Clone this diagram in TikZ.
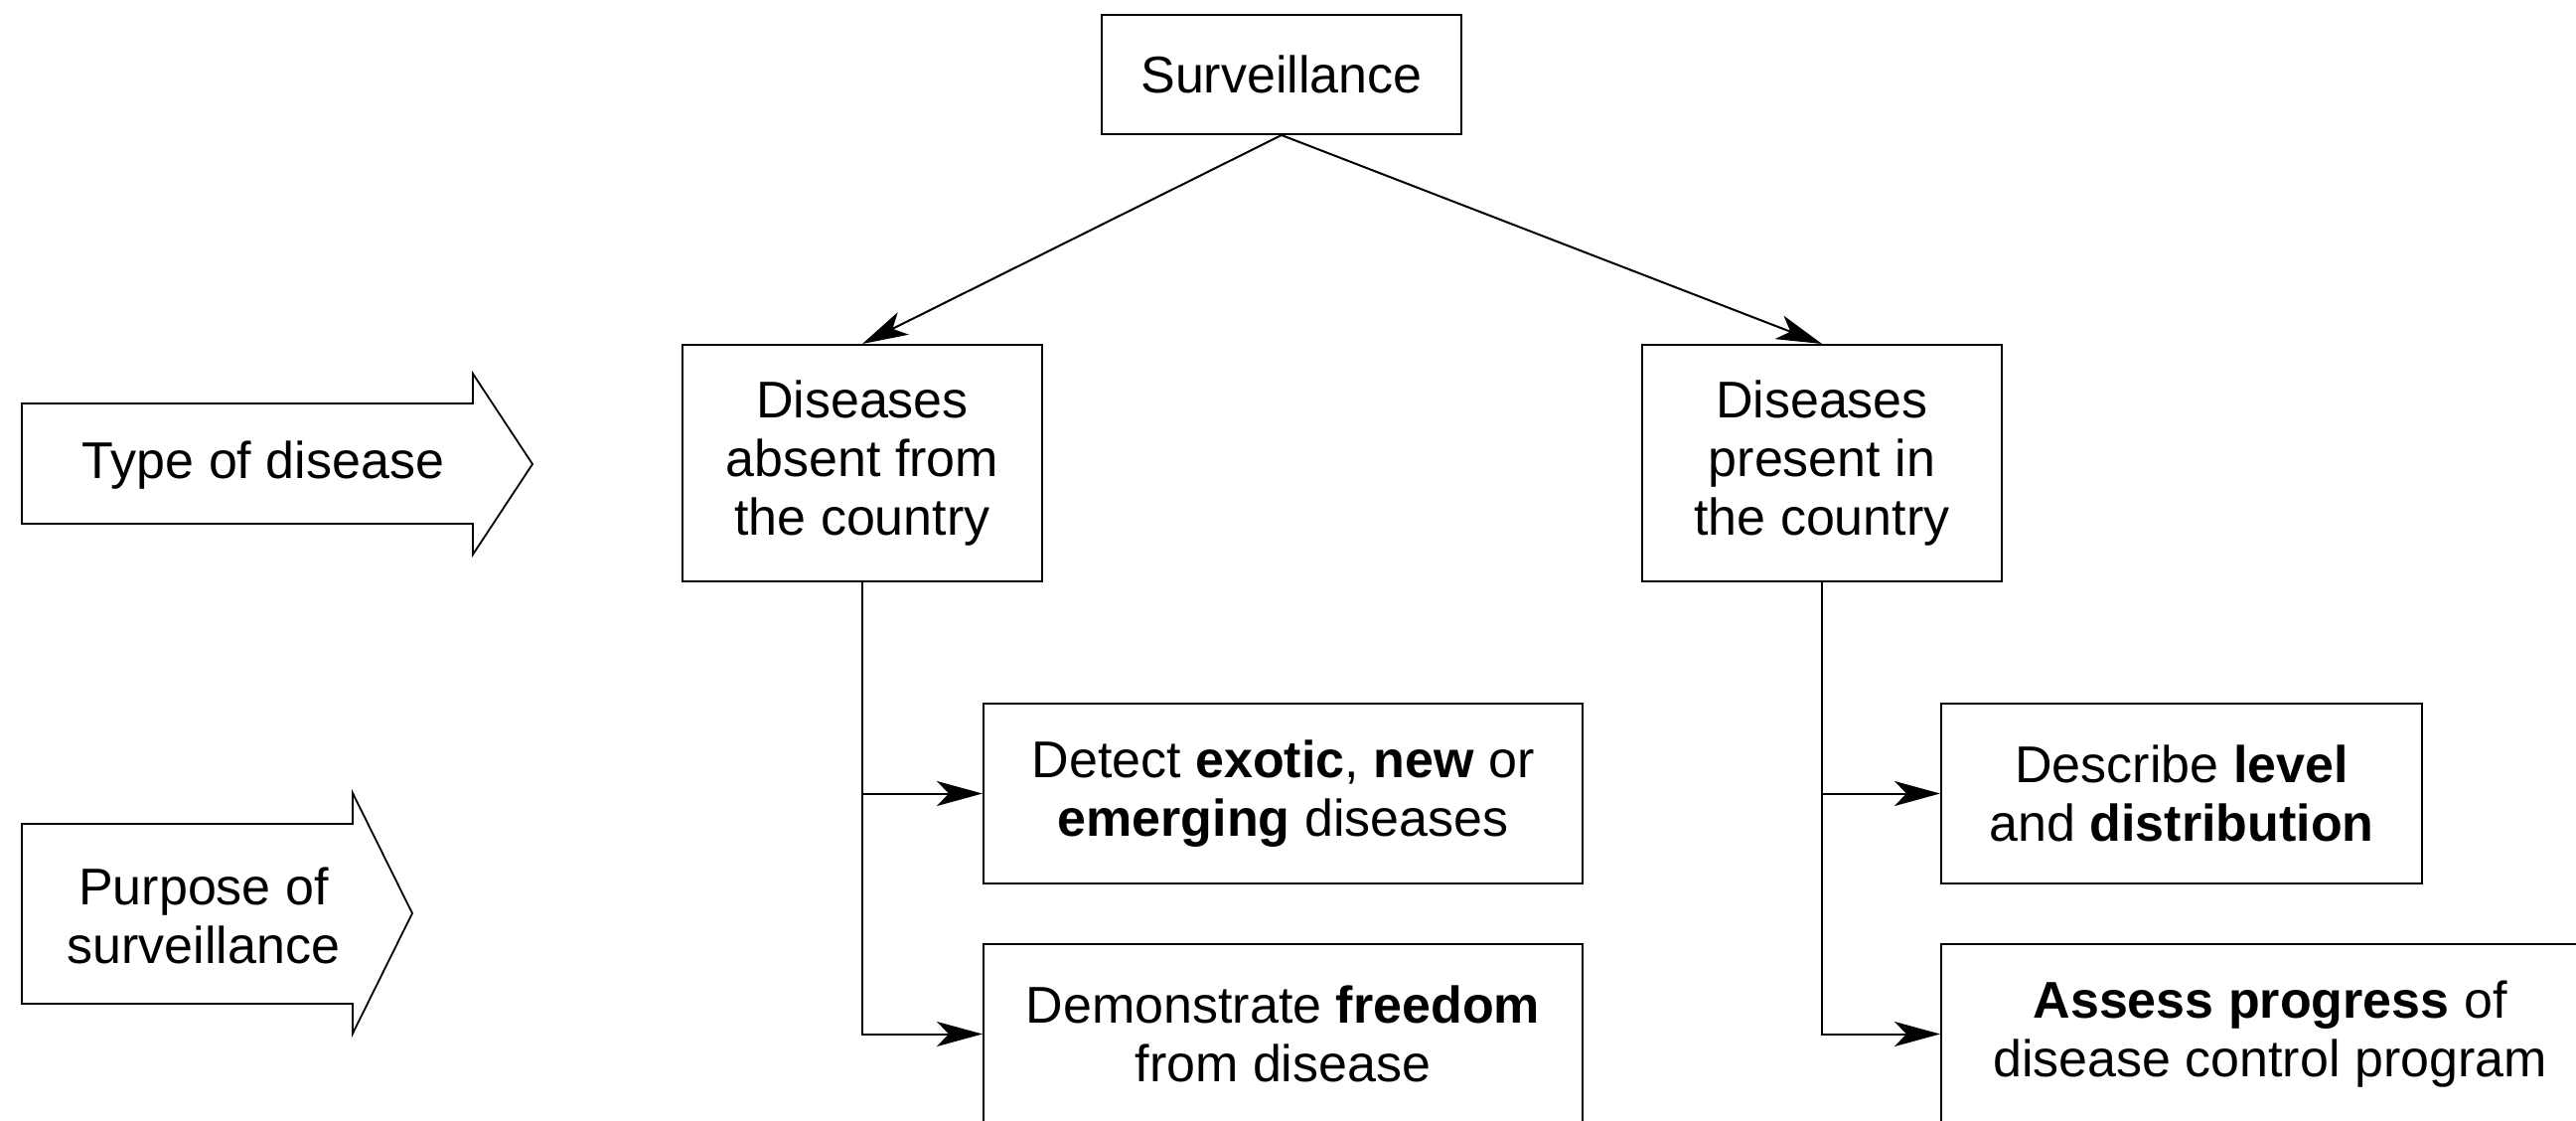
\documentclass[tikz,border=0pt]{standalone}
\usepackage{fontspec}
\setmainfont{Liberation Sans}
\usetikzlibrary{arrows.meta}
\begin{document}
\begin{tikzpicture}[x=0.5pt,y=-0.5pt,
  txt/.style={font=\fontsize{26}{29.5}\selectfont, align=center},
  box/.style={txt, draw=black, line width=1pt, rectangle, inner sep=0pt},
  conn/.style={line width=1pt, -{Stealth[length=23pt,width=12.5pt,inset=6pt]}},
  blockarrow/.style={draw=black, line width=0.9pt, line join=miter},
  tag/.style={txt, inner sep=0pt}]

\useasboundingbox (0,0) rectangle (2593,1128);
\clip (0,0) rectangle (2593,1128);

% top level
\node[box, minimum width=181pt, minimum height=60pt] (surv) at (1290,75) {Surveillance};

% type of disease
\node[box, minimum width=181pt, minimum height=119pt] (absent) at (868,466)
  {Diseases\\absent from\\the country};
\node[box, minimum width=181pt, minimum height=119pt] (present) at (1834,466)
  {Diseases\\present in\\the country};

% purposes
\node[box, minimum width=301.5pt, minimum height=90.5pt] (detect) at (1291.5,798.5)
  {Detect \textbf{exotic}, \textbf{new} or\\\textbf{emerging} diseases};
\node[box, minimum width=301.5pt, minimum height=90.5pt] (demo) at (1291.5,1040.5)
  {Demonstrate \textbf{freedom}\\from disease};
\node[box, minimum width=242pt, minimum height=90.5pt] (describe) at (2196,798.5)
  {Describe \textbf{level}\\and \textbf{distribution}};
\node[box, minimum width=331pt, minimum height=90.5pt] (assess) at (2285,1040.5)
  {\textbf{Assess progress} of\\disease control program};

% connectors
\draw[conn] (surv.south) -- (absent.north);
\draw[conn] (surv.south) -- (present.north);
\draw[conn] (absent.south) |- (detect.west);
\draw[conn] (absent.south) |- (demo.west);
\draw[conn] (present.south) |- (describe.west);
\draw[conn] (present.south) |- (assess.west);

% side block arrows
\draw[blockarrow] (22,406) -- (476,406) -- (476,376) -- (536,467) -- (476,558)
  -- (476,527) -- (22,527) -- cycle;
\node[tag] (typelbl) at (265,468) {Type of disease};

\draw[blockarrow] (22,829) -- (355,829) -- (355,798) -- (415,919) -- (355,1040)
  -- (355,1010) -- (22,1010) -- cycle;
\node[tag] (purplbl) at (205,921) {Purpose of\\surveillance};

\end{tikzpicture}
\end{document}
